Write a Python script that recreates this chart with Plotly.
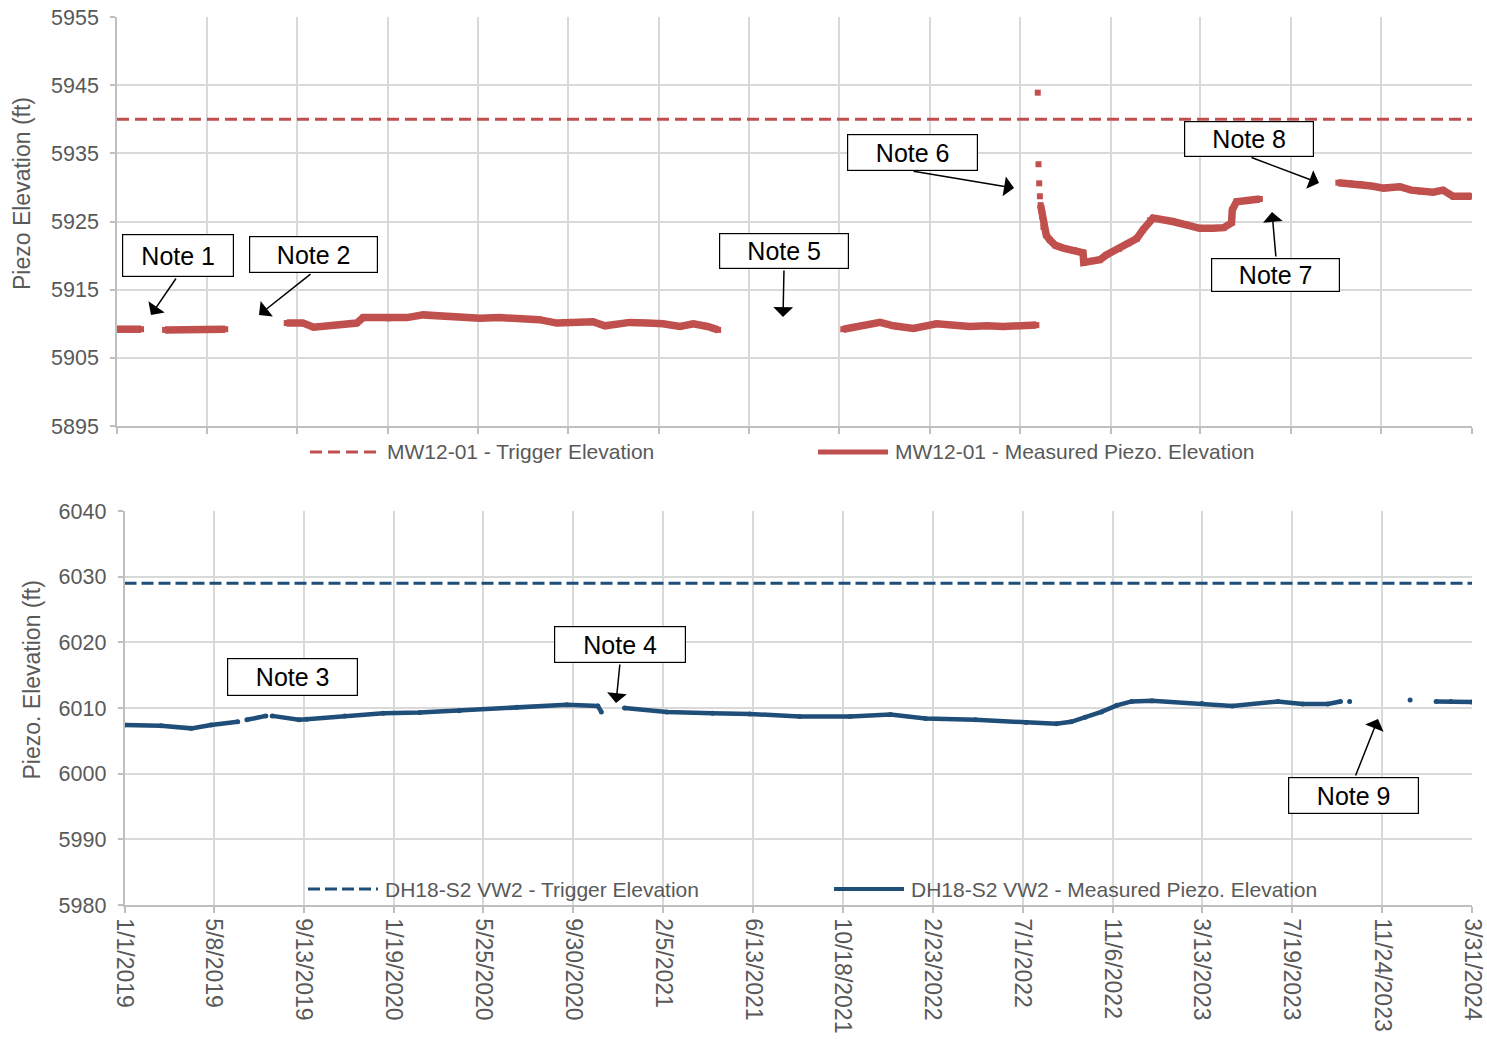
import plotly.graph_objects as go

# ------------------------------------------------------------------
# Data
# ------------------------------------------------------------------
MW12_TRIGGER = 5940
DH18_TRIGGER = 6029

# MW12-01 measured piezometric elevation (ft); None marks data gaps
mw12_dates = [
    "2019-01-01", "2019-01-20", "2019-02-04", None,
    "2019-03-10", "2019-04-15", "2019-06-03", None,
    "2019-08-29", "2019-09-21", "2019-10-06", "2019-11-03", "2019-12-06",
    "2019-12-15", "2020-01-20", "2020-02-15", "2020-03-09", "2020-04-11",
    "2020-05-28", "2020-06-25", "2020-07-24", "2020-08-20", "2020-09-14",
    "2020-10-10", "2020-11-04", "2020-11-21", "2020-12-26", "2021-01-20",
    "2021-02-11", "2021-03-07", "2021-03-26", "2021-04-15", "2021-04-30", None,
    "2021-10-24", "2021-11-21", "2021-12-15", "2022-01-03", "2022-01-31",
    "2022-03-05", "2022-04-21", "2022-05-15", "2022-06-07", "2022-07-24", None,
    "2022-07-26", None, "2022-07-27", None, "2022-07-28", None, "2022-07-29", None,
    "2022-07-30", "2022-08-01", "2022-08-03", "2022-08-07", "2022-08-12",
    "2022-08-20", "2022-08-31", "2022-09-15", "2022-09-28", "2022-09-29",
    "2022-10-10", "2022-10-22", "2022-10-31", "2022-11-18", "2022-12-01",
    "2022-12-13", "2022-12-22", "2023-01-01", "2023-01-05", "2023-02-02",
    "2023-02-20", "2023-03-12", "2023-03-31", "2023-04-15", "2023-04-26",
    "2023-04-27", "2023-05-03", "2023-05-20", "2023-06-05", None,
    "2023-09-24", "2023-10-10", "2023-10-25", "2023-11-10", "2023-11-27",
    "2023-12-20", "2024-01-05", "2024-01-18", "2024-02-05", "2024-02-19",
    "2024-03-04", "2024-03-30",
]
mw12_elev = [
    5909.2, 5909.1, 5909.2, None,
    5909.1, 5909.2, 5909.2, None,
    5910.1, 5910.1, 5909.5, 5909.8, 5910.1,
    5910.9, 5910.8, 5910.9, 5911.3, 5911.0,
    5910.8, 5910.9, 5910.8, 5910.6, 5910.1,
    5910.2, 5910.3, 5909.7, 5910.2, 5910.1,
    5910.0, 5909.6, 5910.0, 5909.6, 5909.1, None,
    5909.2, 5909.8, 5910.2, 5909.7, 5909.3,
    5910.0, 5909.6, 5909.7, 5909.6, 5909.8, None,
    5943.9, None, 5933.4, None, 5930.6, None, 5928.7, None,
    5927.4, 5925.8, 5924.2, 5923.0, 5922.3,
    5921.5, 5921.1, 5920.8, 5920.4, 5919.0,
    5919.2, 5919.4, 5920.1, 5921.0, 5921.8,
    5922.5, 5923.8, 5925.2, 5925.5, 5925.0,
    5924.6, 5924.0, 5924.0, 5924.1, 5924.8,
    5926.7, 5927.9, 5928.1, 5928.3, None,
    5930.7, 5930.6, 5930.5, 5930.2, 5929.9,
    5930.1, 5929.6, 5929.4, 5929.3, 5929.6,
    5928.7, 5928.7,
]

# DH18-S2 VW2 measured piezometric elevation (ft); None marks data gaps
dh18_dates = [
    "2019-01-01", "2019-02-22", "2019-04-06", "2019-05-04", "2019-06-11", None,
    "2019-06-24", "2019-07-21", None,
    "2019-07-30", "2019-09-06", "2019-09-17", "2019-11-10", "2020-01-04",
    "2020-02-25", "2020-04-21", "2020-07-12", "2020-09-21", "2020-11-04",
    "2020-11-09", None,
    "2020-12-12", "2021-02-10", "2021-04-16", "2021-06-08", "2021-08-18",
    "2021-10-29", "2021-12-25", "2022-02-13", "2022-04-25", "2022-07-06",
    "2022-08-18", "2022-09-08", "2022-09-28", "2022-10-21", "2022-11-12",
    "2022-12-03", "2023-01-01", "2023-03-13", "2023-04-25", "2023-06-29",
    "2023-08-03", "2023-09-08", "2023-09-26", None,
    "2023-10-09", None,
    "2024-01-03", None,
    "2024-02-09", "2024-03-01", "2024-03-31",
]
dh18_elev = [
    6007.4, 6007.3, 6006.9, 6007.4, 6007.9, None,
    6008.2, 6008.8, None,
    6008.8, 6008.2, 6008.3, 6008.8, 6009.2,
    6009.3, 6009.6, 6010.1, 6010.5, 6010.3,
    6009.4, None,
    6010.0, 6009.4, 6009.2, 6009.1, 6008.7,
    6008.7, 6009.0, 6008.4, 6008.2, 6007.8,
    6007.6, 6007.9, 6008.6, 6009.4, 6010.4,
    6011.0, 6011.1, 6010.7, 6010.3, 6011.0,
    6010.6, 6010.6, 6011.0, None,
    6011.0, None,
    6011.2, None,
    6011.0, 6011.0, 6010.9,
]

DATE_START, DATE_END = "2019-01-01", "2024-03-31"
tick_dates = [
    "2019-01-01", "2019-05-08", "2019-09-13", "2020-01-19", "2020-05-25",
    "2020-09-30", "2021-02-05", "2021-06-13", "2021-10-18", "2022-02-23",
    "2022-07-01", "2022-11-06", "2023-03-13", "2023-07-19", "2023-11-24",
    "2024-03-31",
]
tick_labels = [
    "1/1/2019", "5/8/2019", "9/13/2019", "1/19/2020", "5/25/2020",
    "9/30/2020", "2/5/2021", "6/13/2021", "10/18/2021", "2/23/2022",
    "7/1/2022", "11/6/2022", "3/13/2023", "7/19/2023", "11/24/2023",
    "3/31/2024",
]

# ------------------------------------------------------------------
# Styling
# ------------------------------------------------------------------
W, H = 1487, 1039
FONT = "Liberation Sans, Arial, sans-serif"
TXT = "#595959"
GRID = "#D9D9D9"
AXIS = "#BFBFBF"
RED = "#C0504D"
BLUE = "#1F4E79"


def fx(p):
    return p / W


def fy(p):
    return 1 - p / H


fig = go.Figure()

fig.add_trace(go.Scatter(
    x=[DATE_START, DATE_END], y=[MW12_TRIGGER, MW12_TRIGGER],
    mode="lines", line=dict(color=RED, width=3, dash="12px,6px"),
    xaxis="x", yaxis="y", showlegend=False, hoverinfo="skip",
))
fig.add_trace(go.Scatter(
    x=mw12_dates, y=mw12_elev, mode="lines+markers",
    line=dict(color=RED, width=7.5),
    marker=dict(symbol="square", size=6, color=RED),
    xaxis="x", yaxis="y", showlegend=False, connectgaps=False,
))
fig.add_trace(go.Scatter(
    x=[DATE_START, DATE_END], y=[DH18_TRIGGER, DH18_TRIGGER],
    mode="lines", line=dict(color=BLUE, width=3, dash="12px,5px"),
    xaxis="x2", yaxis="y2", showlegend=False, hoverinfo="skip",
))
fig.add_trace(go.Scatter(
    x=dh18_dates, y=dh18_elev, mode="lines+markers",
    line=dict(color=BLUE, width=4.5),
    marker=dict(symbol="circle", size=5, color=BLUE),
    xaxis="x2", yaxis="y2", showlegend=False, connectgaps=False,
))

xcommon = dict(
    type="date", range=[DATE_START, DATE_END],
    tickmode="array", tickvals=tick_dates,
    showgrid=True, gridcolor=GRID, gridwidth=1.5,
    showline=True, linecolor=AXIS, linewidth=1.5,
    ticks="outside", ticklen=6, tickcolor=AXIS, tickwidth=1.5,
    zeroline=False, automargin=False,
)
ycommon = dict(
    showgrid=True, gridcolor=GRID, gridwidth=1.5,
    showline=True, linecolor=AXIS, linewidth=1.5,
    ticks="outside", ticklen=5, tickcolor=AXIS, tickwidth=1.5,
    tickfont=dict(family=FONT, size=21.5, color=TXT),
    ticklabelstandoff=7, zeroline=False, dtick=10,
    automargin=False,
)

fig.update_layout(
    width=W, height=H,
    margin=dict(l=0, r=0, t=0, b=0),
    paper_bgcolor="white", plot_bgcolor="white",
    font=dict(family=FONT, color=TXT),
    xaxis=dict(xcommon, domain=[fx(117), fx(1472)], anchor="y",
               showticklabels=False),
    yaxis=dict(ycommon, domain=[fy(426), fy(17)], anchor="x",
               range=[5895, 5955], tick0=5895),
    xaxis2=dict(xcommon, domain=[fx(124.5), fx(1472)], anchor="y2",
                ticktext=tick_labels, tickangle=90,
                tickfont=dict(family=FONT, size=23, color=TXT),
                ticklabelstandoff=1),
    yaxis2=dict(ycommon, domain=[fy(905), fy(511)], anchor="x2",
                range=[5980, 6040], tick0=5980),
)

annotations = []
shapes = []

# axis titles
annotations.append(dict(
    x=fx(21.5), y=fy(193.5), xref="paper", yref="paper",
    text="Piezo Elevation (ft)", textangle=-90, showarrow=False,
    font=dict(family=FONT, size=23, color=TXT),
    xanchor="center", yanchor="middle",
))
annotations.append(dict(
    x=fx(31.5), y=fy(680), xref="paper", yref="paper",
    text="Piezo. Elevation (ft)", textangle=-90, showarrow=False,
    font=dict(family=FONT, size=23, color=TXT),
    xanchor="center", yanchor="middle",
))

# legends (sample line + label)
legend_items = [
    (310, 380, 452, RED, 3, "12px,6px", "MW12-01 - Trigger Elevation"),
    (818, 888, 452, RED, 5, "solid", "MW12-01 - Measured Piezo. Elevation"),
    (308, 378, 889, BLUE, 3, "12px,5px", "DH18-S2 VW2 - Trigger Elevation"),
    (834, 904, 889, BLUE, 4, "solid", "DH18-S2 VW2 - Measured Piezo. Elevation"),
]
for x0, x1, yy, col, lw, dash, label in legend_items:
    shapes.append(dict(
        type="line", xref="paper", yref="paper",
        x0=fx(x0), x1=fx(x1), y0=fy(yy), y1=fy(yy),
        line=dict(color=col, width=lw, dash=dash),
    ))
    annotations.append(dict(
        x=fx(x1 + 5), y=fy(yy), xref="paper", yref="paper",
        text=label, showarrow=False, xanchor="left", yanchor="middle",
        font=dict(family=FONT, size=21, color=TXT),
    ))

# note call-outs: (text, box left, top, right, bottom, arrow tail, arrow head)
notes = [
    ("Note 1", 122, 234, 234, 277, (177, 277), (151, 315)),
    ("Note 2", 249, 236, 378, 273, (312, 273), (259, 315)),
    ("Note 5", 719, 233, 849, 269, (784, 269), (783, 317)),
    ("Note 6", 847, 134, 978, 171, (912, 171), (1014, 188)),
    ("Note 8", 1184, 121, 1314, 157, (1250, 157), (1319, 183)),
    ("Note 7", 1211, 258, 1340, 292, (1276, 258), (1272, 212)),
    ("Note 3", 227, 658, 358, 696, None, None),
    ("Note 4", 554, 626, 686, 663, (620, 663), (616, 703)),
    ("Note 9", 1288, 777, 1419, 814, (1355, 777), (1378, 719)),
]
for text, l, t, r, b, tail, head in notes:
    annotations.append(dict(
        x=fx((l + r) / 2), y=fy((t + b) / 2), xref="paper", yref="paper",
        text=text, showarrow=False, xanchor="center", yanchor="middle",
        font=dict(family=FONT, size=25, color="black"),
        bgcolor="white", bordercolor="black", borderwidth=1.2, borderpad=0,
        width=r - l - 2, height=b - t - 2,
    ))
    if tail is not None:
        annotations.append(dict(
            x=fx(head[0]), y=fy(head[1]), xref="paper", yref="paper",
            ax=tail[0] - head[0], ay=tail[1] - head[1],
            text="", showarrow=True, arrowhead=1, arrowsize=2.2,
            arrowwidth=1.5, arrowcolor="black", standoff=0,
        ))

fig.update_layout(annotations=annotations, shapes=shapes)

fig.write_html("out.html")
